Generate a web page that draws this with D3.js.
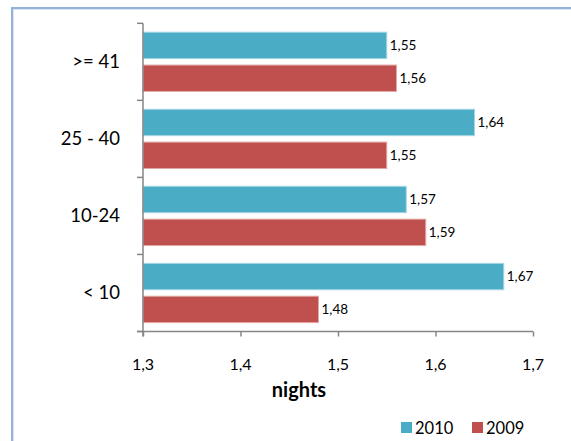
<!DOCTYPE html>
<html>
<head>
<meta charset="utf-8">
<script src="https://cdn.jsdelivr.net/npm/d3@7"></script>
<style>
  html, body { margin: 0; padding: 0; background: #ffffff; }
  svg { display: block; }
</style>
</head>
<body>
<svg id="chart" width="571" height="441"></svg>
<script>
// ---- data ----
const categories = [">= 41", "25 - 40", "10-24", "< 10"];
const seriesNames = ["2010", "2009"];
const values2010 = [1.55, 1.64, 1.57, 1.67];
const values2009 = [1.56, 1.55, 1.59, 1.48];
const xTicks = [1.3, 1.4, 1.5, 1.6, 1.7];
const axisTitle = "nights";

const colors = { "2010": "#4bacc6", "2009": "#c0504d" };
const edge = { "2010": "#a5d5e3", "2009": "#e0a8a6" };
const fmt = v => v.toFixed(2).replace(".", ",");

const svg = d3.select("#chart");
const font = "Lato, 'Open Sans', sans-serif";

// outer frame
svg.append("rect").attr("x", 12).attr("y", 8).attr("width", 600).attr("height", 500)
  .attr("fill", "none").attr("stroke", "#95b3d7").attr("stroke-width", 2);
svg.append("rect").attr("x", 13.5).attr("y", 9.5).attr("width", 600).attr("height", 500)
  .attr("fill", "none").attr("stroke", "#dbe6f2").attr("stroke-width", 1);

const x = d3.scaleLinear().domain([1.3, 1.7]).range([143, 533]);
const y = d3.scaleBand().domain(categories).range([23.3, 331.5]).paddingInner(0).paddingOuter(0);
const yInner = d3.scaleBand().domain(seriesNames).range([0, y.bandwidth()]).paddingInner(0.197).paddingOuter(0.271);

const rows = [];
categories.forEach((c, i) => {
  rows.push({ cat: c, s: "2010", v: values2010[i] });
  rows.push({ cat: c, s: "2009", v: values2009[i] });
});

// bars
svg.append("g").selectAll("rect").data(rows).join("rect")
  .attr("x", x(1.3))
  .attr("y", d => y(d.cat) + yInner(d.s))
  .attr("width", d => x(d.v) - x(1.3))
  .attr("height", yInner.bandwidth())
  .attr("fill", d => colors[d.s])
  .attr("stroke", d => edge[d.s])
  .attr("stroke-width", 1);

// data labels
svg.append("g").selectAll("text").data(rows).join("text")
  .attr("x", d => x(d.v) + 3)
  .attr("y", d => y(d.cat) + yInner(d.s) + yInner.bandwidth() / 2)
  .attr("dy", "0.35em")
  .attr("font-family", font).attr("font-size", 13.5)
  .attr("fill", "#000")
  .text(d => fmt(d.v));

// y axis (category)
const yAxis = svg.append("g").attr("transform", `translate(${x(1.3)},0)`);
yAxis.append("line").attr("x1", 0).attr("x2", 0).attr("y1", y.range()[0]).attr("y2", y.range()[1] + 5)
  .attr("stroke", "#868686").attr("stroke-width", 1.5);
const boundaries = categories.map(c => y(c)).concat([y.range()[1]]);
yAxis.selectAll("line.tk").data(boundaries).join("line").attr("class", "tk")
  .attr("x1", -6).attr("x2", 0).attr("y1", d => d).attr("y2", d => d)
  .attr("stroke", "#868686").attr("stroke-width", 1.5);
svg.append("g").selectAll("text").data(categories).join("text")
  .attr("x", 120)
  .attr("y", d => y(d) + y.bandwidth() / 2)
  .attr("dy", "0.35em")
  .attr("text-anchor", "end")
  .attr("font-family", font).attr("font-size", 18.5)
  .attr("fill", "#000")
  .text(d => d);

// x axis
const xAxisG = svg.append("g").attr("transform", `translate(0,${y.range()[1]})`)
  .call(d3.axisBottom(x).tickValues(xTicks).tickSize(5).tickPadding(0).tickFormat(d => ""));
xAxisG.select(".domain").attr("d", `M${x(1.3) - 6},0H${x(1.7)}`).attr("stroke", "#868686").attr("stroke-width", 1.5);
xAxisG.selectAll(".tick line").attr("stroke", "#868686").attr("stroke-width", 1.5);
svg.append("g").selectAll("text").data(xTicks).join("text")
  .attr("x", d => x(d))
  .attr("y", 370)
  .attr("text-anchor", "middle")
  .attr("font-family", font).attr("font-size", 16)
  .attr("fill", "#000")
  .text(d => d.toFixed(1).replace(".", ","));

svg.append("text").attr("x", 299).attr("y", 397)
  .attr("text-anchor", "middle")
  .attr("font-family", font).attr("font-size", 20).attr("font-weight", "bold")
  .attr("fill", "#000").text(axisTitle);

// legend
const legendX = { "2010": 401, "2009": 472 };
const lg = svg.append("g").selectAll("g").data(seriesNames).join("g")
  .attr("transform", d => `translate(${legendX[d]},422)`);
lg.append("rect").attr("width", 11).attr("height", 11).attr("fill", d => colors[d]);
lg.append("text").attr("x", 14).attr("y", 11.5)
  .attr("font-family", font).attr("font-size", 16.5).attr("fill", "#000")
  .text(d => d);
</script>
</body>
</html>
